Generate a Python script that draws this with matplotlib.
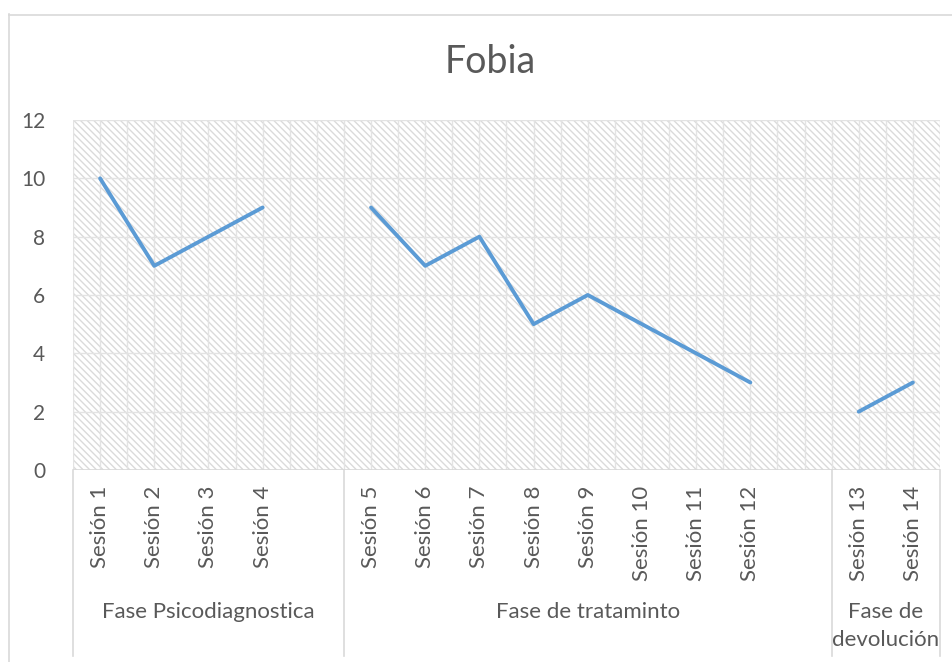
import numpy as np
import matplotlib
matplotlib.use("Agg")
from matplotlib import pyplot as plt
from matplotlib.patches import Rectangle
from matplotlib.lines import Line2D
import matplotlib.transforms as mtransforms

plt.rcParams['font.family'] = ['Lato', 'DejaVu Sans']
plt.rcParams['hatch.linewidth'] = 1.0

# datos (None = hueco entre fases)
sesiones = ["Sesión 1", "Sesión 2", "Sesión 3", "Sesión 4", "",
            "Sesión 5", "Sesión 6", "Sesión 7", "Sesión 8", "Sesión 9",
            "Sesión 10", "Sesión 11", "Sesión 12", "",
            "Sesión 13", "Sesión 14"]
valores = [10, 7, 8, 9, None, 9, 7, 8, 5, 6, 5, 4, 3, None, 2, 3]
fases = ["Fase Psicodiagnostica", "Fase de trataminto", "Fase de\ndevolución"]
fase_n = [5, 9, 2]  # categorias por fase

gris = '#595959'
linea = '#d9d9d9'

fig = plt.figure(figsize=(9.53, 6.62), dpi=100)
ax = fig.add_axes([73/953, 1-470/662, 867/953, 350/662])

x = np.arange(1, len(sesiones)+1)
y = np.array([np.nan if v is None else v for v in valores], dtype=float)

# fondo rayado
ax.add_patch(Rectangle((0, 0), 1, 1, transform=ax.transAxes, facecolor='white',
                       edgecolor='#dadada', lw=0, hatch='\\\\\\\\\\', zorder=0))

ax.plot(x, y, color='#5B9BD5', lw=2.8, zorder=3, solid_capstyle='round')

ax.set_xlim(0.5, len(sesiones)+0.5)
ax.set_ylim(0, 12)
ax.set_yticks(range(0, 13, 2))
ax.set_xticks(np.arange(0.5, len(sesiones)+0.6, 0.5))
ax.set_xticklabels([])
ax.grid(True, color='#e3e3e3', lw=1, zorder=1)
ax.set_axisbelow(True)
for s in ax.spines.values():
    s.set_visible(False)
ax.tick_params(axis='both', length=0)
ax.tick_params(axis='y', labelsize=15, labelcolor=gris, pad=20)
ax.axhline(0, color=linea, lw=1.2, zorder=2)

# etiquetas de sesiones
tr = mtransforms.blended_transform_factory(ax.transData, ax.transAxes)
for xi, lab in zip(x, sesiones):
    if lab:
        ax.text(xi, -0.045, lab, transform=tr, rotation=90, ha='center', va='top',
                fontsize=16, color=gris)

# separadores y fases
bordes = np.concatenate([[0.5], 0.5 + np.cumsum(fase_n)])
for b in bordes:
    ax.add_line(Line2D([b, b], [0, -0.53], transform=tr, color=linea, lw=1.2,
                       clip_on=False))
for i, f in enumerate(fases):
    cx = (bordes[i] + bordes[i+1]) / 2
    ax.text(cx, -0.378, f, transform=tr, ha='center', va='top', fontsize=16,
            color=gris, linespacing=1.45)

# titulo
fig.text(490/953, 1-62/662, "Fobia", ha='center', va='center', fontsize=27,
         color=gris)

# borde del grafico
fig.add_artist(Line2D([9.5/953, 9.5/953], [0, 1-14/662], transform=fig.transFigure,
                      color=linea, lw=1.2))
fig.add_artist(Line2D([9.5/953, 1], [1-14.5/662, 1-14.5/662], transform=fig.transFigure,
                      color=linea, lw=1.2))

fig.savefig("out.png", dpi=100)
